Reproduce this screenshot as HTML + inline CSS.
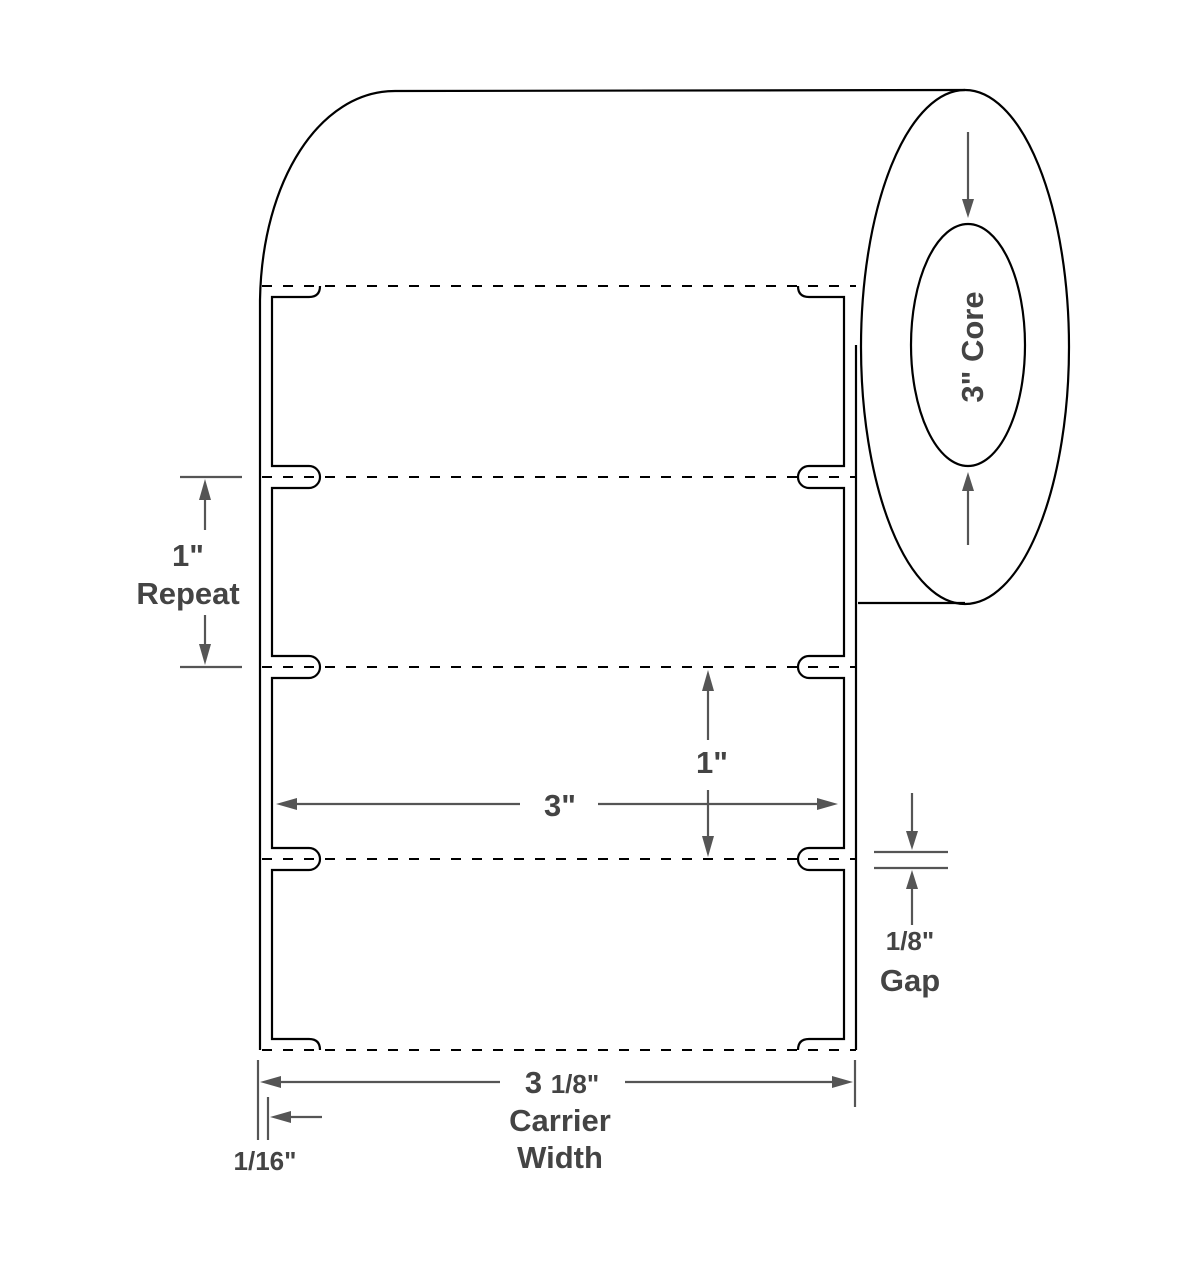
<!DOCTYPE html>
<html><head><style>body{margin:0;background:#fff}</style></head><body>
<svg width="1200" height="1263" viewBox="0 0 1200 1263" xmlns="http://www.w3.org/2000/svg" font-family="Liberation Sans, sans-serif" font-weight="bold">
<g fill="none" stroke="#000" stroke-width="2.2">
<path d="M260,1050 L260,300 C262,180 320,91 395,91 L965,90"/>
<ellipse cx="965" cy="347" rx="104" ry="257"/>
<ellipse cx="968" cy="345" rx="57" ry="121"/>
<line x1="858" y1="603" x2="965" y2="603"/>
<line x1="856" y1="345" x2="856" y2="1050"/>
</g>
<g stroke="#000" stroke-width="2" stroke-dasharray="10,11">
<line x1="262" y1="286" x2="856" y2="286"/>
<line x1="262" y1="477" x2="856" y2="477"/>
<line x1="262" y1="667" x2="856" y2="667"/>
<line x1="262" y1="859" x2="856" y2="859"/>
<line x1="262" y1="1050" x2="856" y2="1050"/>
</g>
<g fill="none" stroke="#000" stroke-width="2.2">
<path d="M320,286 Q320,297 309,297 L272,297 L272,466 L309,466 A11,11 0 0 1 309,488 L272,488 L272,656 L309,656 A11,11 0 0 1 309,678 L272,678 L272,848 L309,848 A11,11 0 0 1 309,870 L272,870 L272,1039 L309,1039 Q320,1039 320,1050"/>
<path d="M798,286 Q798,297 809,297 L844,297 L844,466 L809,466 A11,11 0 0 0 809,488 L844,488 L844,656 L809,656 A11,11 0 0 0 809,678 L844,678 L844,848 L809,848 A11,11 0 0 0 809,870 L844,870 L844,1039 L809,1039 Q798,1039 798,1050"/>
</g>
<g stroke="#555" stroke-width="2.2" fill="#555">
<line x1="180" y1="477" x2="242" y2="477"/>
<line x1="180" y1="667" x2="242" y2="667"/>
<line x1="205" y1="530" x2="205" y2="495"/><polygon points="205,479 199,500 211,500" stroke="none"/>
<line x1="205" y1="615" x2="205" y2="648"/><polygon points="205,665 199,644 211,644" stroke="none"/>
<line x1="292" y1="804" x2="520" y2="804"/><polygon points="276,804 297,798 297,810" stroke="none"/>
<line x1="598" y1="804" x2="822" y2="804"/><polygon points="838,804 817,798 817,810" stroke="none"/>
<line x1="708" y1="690" x2="708" y2="740"/><polygon points="708,670 702,691 714,691" stroke="none"/>
<line x1="708" y1="790" x2="708" y2="838"/><polygon points="708,857 702,836 714,836" stroke="none"/>
<line x1="968" y1="132" x2="968" y2="200"/><polygon points="968,218 962,199 974,199" stroke="none"/>
<line x1="968" y1="545" x2="968" y2="490"/><polygon points="968,472 962,491 974,491" stroke="none"/>
<line x1="874" y1="852" x2="948" y2="852"/>
<line x1="874" y1="868" x2="948" y2="868"/>
<line x1="912" y1="793" x2="912" y2="834"/><polygon points="912,850 906,831 918,831" stroke="none"/>
<line x1="912" y1="925" x2="912" y2="886"/><polygon points="912,870 906,889 918,889" stroke="none"/>
<line x1="258" y1="1060" x2="258" y2="1140"/>
<line x1="268" y1="1097" x2="268" y2="1140"/>
<line x1="855" y1="1060" x2="855" y2="1107"/>
<line x1="278" y1="1082" x2="500" y2="1082"/><polygon points="260,1082 281,1076 281,1088" stroke="none"/>
<line x1="625" y1="1082" x2="836" y2="1082"/><polygon points="853,1082 832,1076 832,1088" stroke="none"/>
<line x1="322" y1="1117" x2="288" y2="1117"/><polygon points="270,1117 291,1111 291,1123" stroke="none"/>
</g>
<g fill="#444" text-anchor="middle" font-size="31">
<text x="188" y="566">1"</text>
<text x="188" y="604">Repeat</text>
<text x="560" y="816">3"</text>
<text x="712" y="773">1"</text>
<text transform="translate(983,347) rotate(-90)">3" Core</text>
<text x="910" y="950" font-size="26">1/8"</text>
<text x="910" y="991">Gap</text>
<text x="562" y="1093"><tspan>3 </tspan><tspan font-size="26">1/8"</tspan></text>
<text x="560" y="1131">Carrier</text>
<text x="560" y="1168">Width</text>
<text x="265" y="1170" font-size="26">1/16"</text>
</g>
</svg>
</body></html>
